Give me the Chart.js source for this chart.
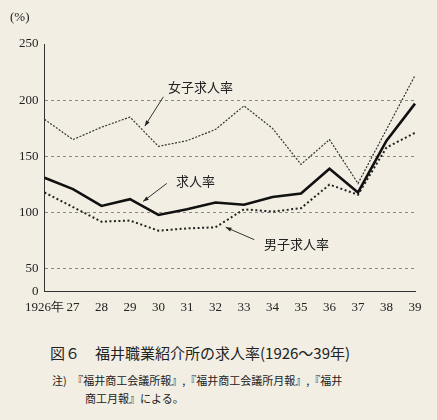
<!DOCTYPE html>
<html><head><meta charset="utf-8">
<script src="https://cdn.jsdelivr.net/npm/chart.js@4"></script>
<style>
body{margin:0;background:#f2eee4;width:437px;height:420px;overflow:hidden;font-family:"Liberation Serif","Noto Sans CJK JP",serif;color:#222}
#wrap{position:absolute;left:0;top:0;width:437px;height:318px}
#cap{position:absolute;left:50px;top:342px;font-size:15px;font-family:"Noto Sans CJK JP",sans-serif}
#note{position:absolute;left:52px;top:371px;font-size:11px;line-height:18px;font-family:"Noto Sans CJK JP",serif}
</style></head><body>
<div id="wrap"><canvas id="c"></canvas></div>
<div id="cap">図６　福井職業紹介所の求人率(1926～39年)</div>
<div id="note">注)　『福井商工会議所報』,『福井商工会議所月報』,『福井<br>　　　商工月報』による。</div>
<script>
// data (%)
const years = ["1926年","27","28","29","30","31","32","33","34","35","36","37","38","39"];
const femaleRate = [183,165,176,185,159,164,174,195,175,143,165,126,174,222];
const totalRate  = [131,121,106,112,98,103,109,107,114,117,139,118,164,197];
const maleRate   = [118,105,92,93,84,86,87,103,101,104,125,116,158,171];

// text labels with arrows: [text, textX, textY, arrow from x,y, to x,y] in data units (x = index)
const callouts = [
  ["女子求人率", 5.47, 212, 4.17, 203, 3.52, 177],
  ["求人率", 5.3, 128, 4.29, 126, 3.46, 110],
  ["男子求人率", 8.84, 72, 7.36, 76, 6.36, 87]
];

const calloutPlugin = {
  id: "callouts",
  afterDatasetsDraw(chart) {
    const {ctx, scales: {x, y}} = chart;
    ctx.save();
    ctx.fillStyle = "#222"; ctx.strokeStyle = "#333"; ctx.lineWidth = 1;
    ctx.font = "13px 'Noto Sans CJK JP'";
    ctx.textAlign = "center"; ctx.textBaseline = "middle";
    callouts.forEach(([t, tx, ty, ax, ay, bx, by]) => {
      ctx.fillText(t, x.getPixelForValue(tx), y.getPixelForValue(ty));
      const x1 = x.getPixelForValue(ax), y1 = y.getPixelForValue(ay);
      const x2 = x.getPixelForValue(bx), y2 = y.getPixelForValue(by);
      ctx.beginPath(); ctx.moveTo(x1, y1); ctx.lineTo(x2, y2); ctx.stroke();
      const a = Math.atan2(y2 - y1, x2 - x1);
      ctx.beginPath(); ctx.moveTo(x2, y2);
      ctx.lineTo(x2 - 6 * Math.cos(a - 0.35), y2 - 6 * Math.sin(a - 0.35));
      ctx.lineTo(x2 - 6 * Math.cos(a + 0.35), y2 - 6 * Math.sin(a + 0.35));
      ctx.closePath(); ctx.fill();
    });
    // unit label
    ctx.font = "13px 'Liberation Serif'"; ctx.textAlign = "left";
    ctx.fillText("(%)", 10, 18);
    ctx.restore();
  }
};

new Chart(document.getElementById("c"), {
  type: "line",
  data: {
    labels: years,
    datasets: [
      {data: femaleRate, borderColor: "#333", borderWidth: 1.2, borderDash: [2, 1.5], pointRadius: 0, tension: 0},
      {data: totalRate, borderColor: "#111", borderWidth: 2.6, pointRadius: 0, tension: 0},
      {data: maleRate, borderColor: "#222", borderWidth: 2, borderDash: [2, 2.5], pointRadius: 0, tension: 0}
    ]
  },
  options: {
    responsive: true, maintainAspectRatio: false, animation: false,
    layout: {padding: {top: 44, right: 22, left: 13, bottom: 0}},
    plugins: {legend: {display: false}, tooltip: {enabled: false}},
    scales: {
      x: {
        offset: false,
        grid: {display: false, drawTicks: true, tickLength: 5},
        border: {color: "#333"},
        ticks: {color: "#222", font: {family: "Liberation Serif", size: 13}, maxRotation: 0, autoSkip: false}
      },
      y: {
        min: 30, max: 250,
        afterBuildTicks: s => { s.ticks = [30, 50, 100, 150, 200, 250].map(v => ({value: v})); },
        grid: {drawTicks: false, color: c => (c.tick.value === 30 || c.tick.value === 250) ? "transparent" : "#888", lineWidth: 1},
        border: {color: "#333", dash: [3, 3]},
        ticks: {color: "#222", padding: 6, font: {family: "Liberation Serif", size: 13}, callback: v => v === 30 ? "0" : v}
      }
    }
  },
  plugins: [calloutPlugin]
});
</script>
</body></html>
